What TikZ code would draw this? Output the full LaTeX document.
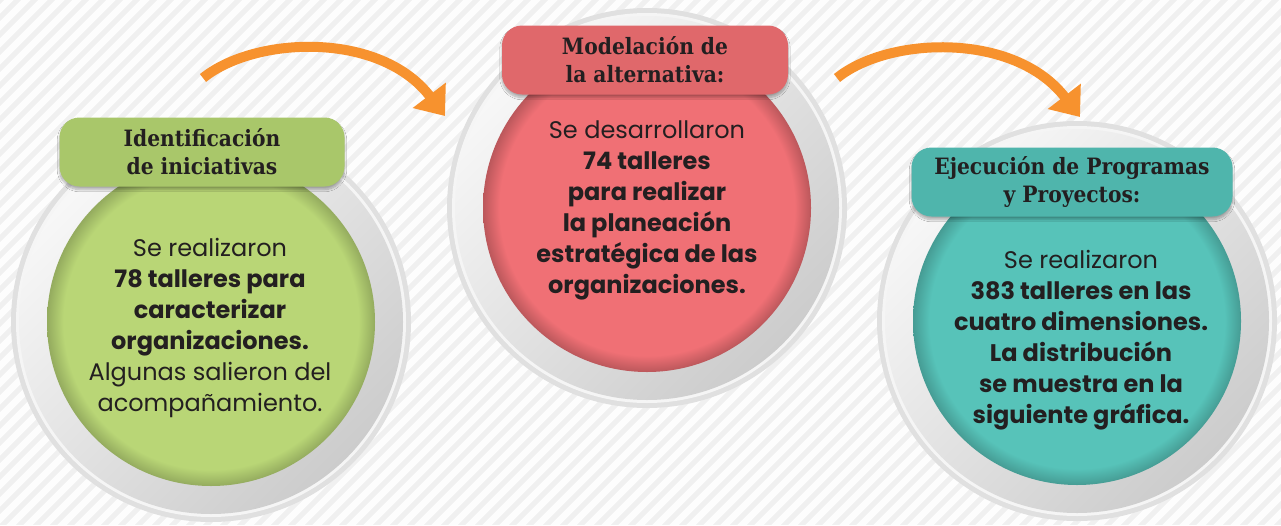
\documentclass[tikz,border=0pt]{standalone}
\usepackage{fontspec}
\setmainfont{Poppins}
\newfontfamily\titfont{DejaVu Serif Condensed}
\usetikzlibrary{arrows.meta,shadows.blur}
\definecolor{fondo}{HTML}{F0F0F0}
\definecolor{naranja}{HTML}{F7922E}
\definecolor{verde}{HTML}{B9D676}
\definecolor{verdeT}{HTML}{A9C76A}
\definecolor{rojo}{HTML}{F07075}
\definecolor{rojoT}{HTML}{E0686B}
\definecolor{turq}{HTML}{57C3B9}
\definecolor{turqT}{HTML}{4FB5AC}
\definecolor{texto}{HTML}{231F20}
% borde oscuro de cada circulo
\pgfdeclareradialshading{sverde}{\pgfpoint{0bp}{0bp}}{color(0bp)=(verde); color(22.5bp)=(verde); color(25bp)=(verde!80!black); color(50bp)=(verde!80!black)}
\pgfdeclareradialshading{srojo}{\pgfpoint{0bp}{0bp}}{color(0bp)=(rojo); color(22.5bp)=(rojo); color(25bp)=(rojo!78!black); color(50bp)=(rojo!78!black)}
\pgfdeclareradialshading{sturq}{\pgfpoint{0bp}{0bp}}{color(0bp)=(turq); color(22.5bp)=(turq); color(25bp)=(turq!80!black); color(50bp)=(turq!80!black)}
\tikzset{
  titulo/.style={rounded corners=20pt, minimum height=69pt, inner sep=0pt, align=center,
    text=texto, font=\titfont\bfseries\fontsize{22.5}{28}\selectfont,
    blur shadow={shadow xshift=0pt, shadow yshift=-3pt, shadow opacity=30, shadow blur steps=10}},
  cuerpo/.style={align=center, inner sep=0pt, text=texto, font=\fontsize{24}{31}\selectfont},
  flecha/.style={draw=naranja, line width=10pt, -{Triangle[length=26pt,width=40pt]}}
}
\begin{document}
\begin{tikzpicture}[x=1pt,y=-1pt, line join=round]
  % fondo rayado
  \fill[fondo] (0,0) rectangle (1281,525);
  \begin{scope}
    \clip (0,0) rectangle (1281,525);
    \foreach \i in {-560,-543,...,1300}
      \draw[white, line width=6.5pt, opacity=.9] (\i,535) -- ++(545,-545);
  \end{scope}
  \useasboundingbox (0,0) rectangle (1281,525);

  % anillos grises y circulos
  \foreach \cx/\cy/\col in {211/322/verde, 647/208/rojo, 1077/321/turq}{
    \fill[gray!24] (\cx,\cy) circle[radius=200];
    \fill[white!92!gray] (\cx,\cy) circle[radius=195];
    \shade[top color=gray!6, bottom color=gray!40, shading angle=45] (\cx,\cy) circle[radius=192];
    \shade[shading=s\col] (\cx,\cy) circle[radius=164];
  }

  % flechas
  \coordinate (f1a) at (203,78);
  \coordinate (f1b) at (445,116);
  \coordinate (f2a) at (837,78);
  \coordinate (f2b) at (1080,117);
  \draw[flecha] (f1a) .. controls +(52,-42) and +(-65,-85) .. (f1b);
  \draw[flecha] (f2a) .. controls +(52,-42) and +(-65,-85) .. (f2b);

  % etiquetas
  \node[titulo, fill=verdeT, minimum width=285pt] (tit1) at (202,152) {Identificación\\de iniciativas};
  \node[titulo, fill=rojoT, minimum width=286pt] (tit2) at (645,60) {Modelación de\\la alternativa:};
  \node[titulo, fill=turqT, minimum width=321pt] (tit3) at (1072,182) {Ejecución de Programas\\y Proyectos:};

  % textos
  \node[cuerpo] (txt1) at (210,328) {Se realizaron\\\textbf{78 talleres para}\\\textbf{caracterizar}\\\textbf{organizaciones.}\\Algunas salieron del\\acompañamiento.};
  \node[cuerpo] (txt2) at (647,210) {Se desarrollaron\\\textbf{74 talleres}\\\textbf{para realizar}\\\textbf{la planeación}\\\textbf{estratégica de las}\\\textbf{organizaciones.}};
  \node[cuerpo] (txt3) at (1081,340) {Se realizaron\\\textbf{383 talleres en las}\\\textbf{cuatro dimensiones.}\\\textbf{La distribución}\\\textbf{se muestra en la}\\\textbf{siguiente gráfica.}};
\end{tikzpicture}
\end{document}
